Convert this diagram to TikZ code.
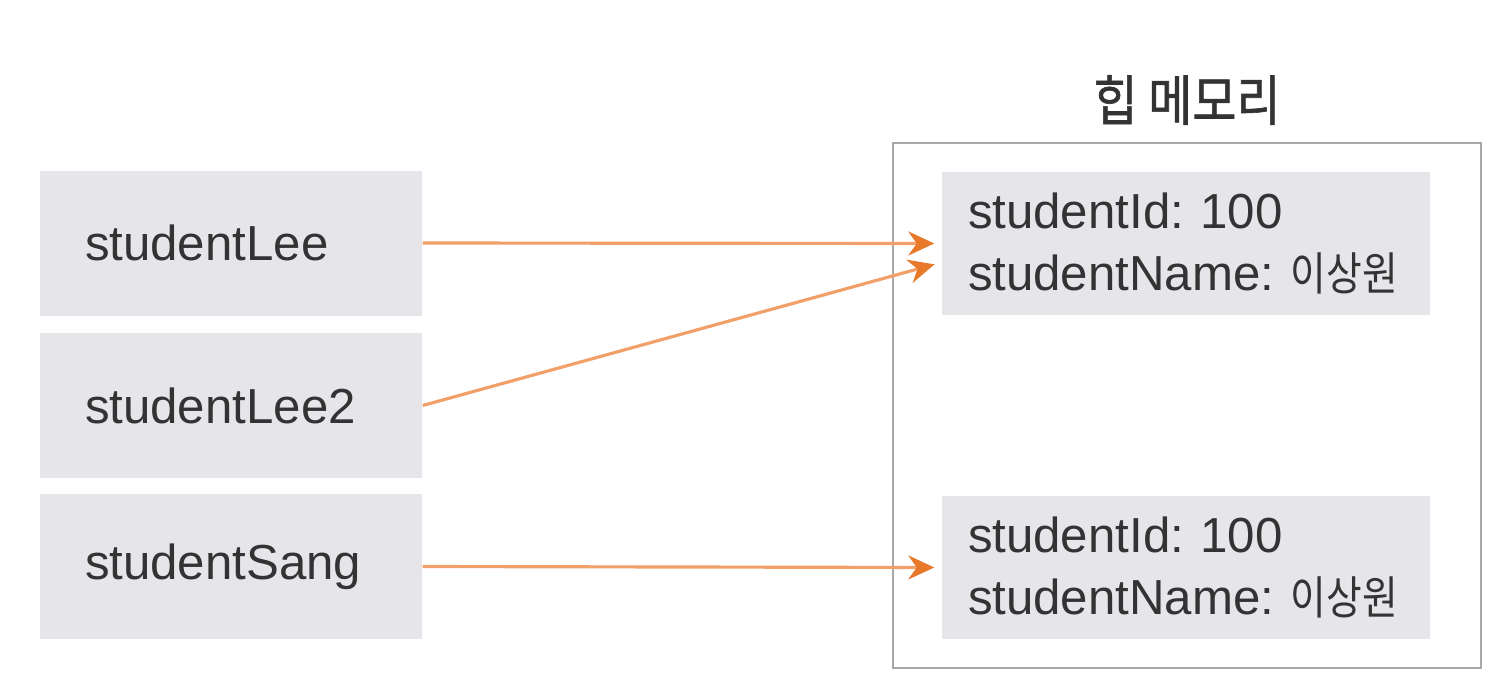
\documentclass[tikz,border=0pt]{standalone}
\usepackage{fontspec}
\setmainfont{Liberation Sans}
\newfontfamily\kr{Noto Sans CJK KR}
\newfontfamily\krtitle[FakeBold=1.2]{Noto Sans CJK KR}
\usetikzlibrary{arrows.meta}
\definecolor{boxgray}{HTML}{E6E6EA}
\definecolor{linegray}{HTML}{A8A8A8}
\definecolor{refline}{HTML}{F0A068}
\definecolor{refhead}{HTML}{E8782A}
\definecolor{txt}{HTML}{333333}
\newcommand{\hangul}[1]{\scalebox{0.85}[1]{\kr\fontsize{13}{17.6}\selectfont #1}}
\tikzset{
  var/.style={fill=boxgray, minimum width=3.82cm, minimum height=1.45cm,
    text width=2.92cm, inner xsep=0.45cm, align=left, text=txt,
    font=\fontsize{14}{17}\selectfont},
  obj/.style={fill=boxgray, minimum width=4.88cm, minimum height=1.43cm,
    text width=4.36cm, inner xsep=0.26cm, align=left, text=txt,
    font=\fontsize{14}{17.6}\selectfont},
  ref/.style={refline, line width=0.9pt, shorten >=0.07cm,
    -{Stealth[length=0.26cm,width=0.24cm,color=refhead]}}
}
\begin{document}
\begin{tikzpicture}
    \useasboundingbox (0,0) rectangle (14.97,6.80);
    % heap
    \draw[linegray, line width=0.7pt] (8.93,0.12) rectangle (14.81,5.37);
    \node[text=txt] (title) at (11.87,5.80)
      {\scalebox{0.88}[1]{\krtitle\fontsize{15.5}{18}\selectfont 힙 메모리}};
    \node[obj] (m1) at (11.86,4.365) {studentId:~100\\studentName:~\hangul{이상원}};
    \node[obj] (m2) at (11.86,1.125) {studentId:~100\\studentName:~\hangul{이상원}};
    % variables
    \node[var] (v1) at (2.31,4.37) {studentLee};
    \node[var] (v2) at (2.31,2.745) {studentLee2};
    \node[var] (v3) at (2.31,1.135) {studentSang};
    % references
    \draw[ref] (v1.east) -- (m1.west);
    \draw[ref] (v2.east) -- ([yshift=-0.19cm]m1.west);
    \draw[ref] (v3.east) -- (m2.west);
  \end{tikzpicture}
\end{document}
